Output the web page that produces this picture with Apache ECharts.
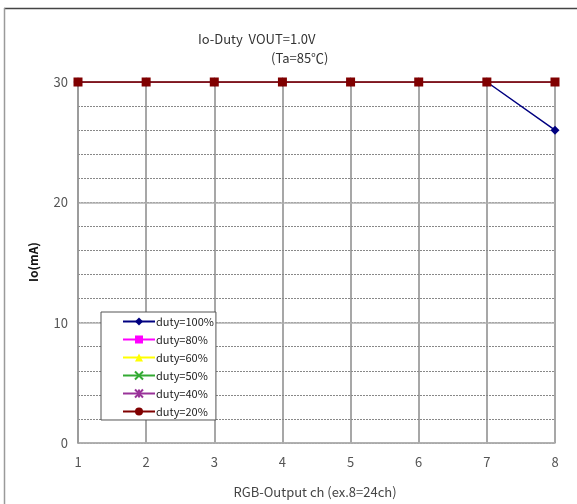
<!DOCTYPE html>
<html><head><meta charset="utf-8">
<script src="https://cdn.jsdelivr.net/npm/echarts@6/dist/echarts.min.js"></script>
<style>html,body{margin:0;padding:0;background:#fff}#c{width:577px;height:504px}</style>
</head><body><div id="c"></div>
<script>
const channels = [1, 2, 3, 4, 5, 6, 7, 8];
const seriesNames = ['duty=100%', 'duty=80%', 'duty=60%', 'duty=50%', 'duty=40%', 'duty=20%'];
const duty100 = [30, 30, 30, 30, 30, 30, 30, 26];
const duty80 = [30, 30, 30, 30, 30, 30, 30, 30];
const duty60 = [30, 30, 30, 30, 30, 30, 30, 30];
const duty50 = [30, 30, 30, 30, 30, 30, 30, 30];
const duty40 = [30, 30, 30, 30, 30, 30, 30, 30];
const duty20 = [30, 30, 30, 30, 30, 30, 30, 30];
const yLabels = [0, 10, 20, 30];
const titleLine1 = 'Io-Duty  VOUT=1.0V';
const titleLine2 = '(Ta=85℃)';
const xName = 'RGB-Output ch (ex.8=24ch)';
const yName = 'Io(mA)';

const FONT = '"Noto Sans CJK JP", "DejaVu Sans", sans-serif';
const colors = ['#000080', '#ff00ff', '#ffff00', '#33aa33', '#993399', '#800000'];
const symbols = ['diamond', 'rect', 'triangle',
  'path://M0,0L10,10M10,0L0,10',
  'path://M0,0L10,10M10,0L0,10M5,0L5,10',
  'circle'];
const sizes = [9, 8, 9, 9, 9, 9];
const allVals = [duty100, duty80, duty60, duty50, duty40, duty20];

const series = allVals.map((vals, k) => ({
  name: seriesNames[k],
  type: 'line',
  xAxisIndex: 0, yAxisIndex: 0,
  data: channels.map((c, i) => k === 5 ? { value: [c, vals[i]], symbol: 'rect' } : [c, vals[i]]),
  symbol: symbols[k],
  symbolSize: sizes[k],
  showSymbol: (k === 0 || k === 5),
  lineStyle: { color: colors[k], width: 1.5 },
  itemStyle: { color: colors[k], borderColor: colors[k], borderWidth: (k === 3 || k === 4) ? 1.2 : 0 },
  emphasis: { disabled: true },
  animation: false
}));

const chart = echarts.init(document.getElementById('c'));
chart.setOption({
  animation: false,
  textStyle: { fontFamily: FONT },
  grid: { left: 78, right: 22, top: 82, bottom: 61 },
  xAxis: {
    type: 'value', min: 1, max: 8, interval: 1,
    axisLine: { show: true, onZero: false, lineStyle: { color: '#999', width: 1.5 } },
    axisTick: { show: false },
    axisLabel: { color: '#555', fontSize: 13, margin: 13, fontFamily: FONT },
    splitLine: { show: true, lineStyle: { color: '#8a8a8a', width: 1.5 } }
  },
  yAxis: [{
    type: 'value', min: 0, max: 30, interval: 10,
    axisLine: { show: true, lineStyle: { color: '#999', width: 1.5 } },
    axisTick: { show: false },
    axisLabel: { color: '#555', fontSize: 13, margin: 10, fontFamily: FONT,
      formatter: v => yLabels.includes(v) ? String(v) : '' },
    splitLine: { show: true, lineStyle: { color: '#b0b0b0', width: 1.5 } },
    z: 1
  }, {
    type: 'value', min: 0, max: 30, interval: 2, position: 'left',
    axisLine: { show: false }, axisTick: { show: false }, axisLabel: { show: false },
    splitLine: { show: true, lineStyle: { color: '#888', width: 1, type: [2, 1] } },
    z: 0
  }],
  legend: {
    orient: 'vertical', left: 101, top: 312,
    data: seriesNames,
    itemWidth: 32, itemHeight: 10, itemGap: 7,
    padding: [4, 2, 3, 21],
    backgroundColor: '#fff',
    borderColor: '#555', borderWidth: 1,
    textStyle: { fontSize: 11, color: '#222', fontFamily: FONT, padding: [0, 0, 0, -4] },
    selectedMode: false
  },
  series: series,
  graphic: [
    { type: 'line', shape: { x1: 4, y1: 8.5, x2: 577, y2: 8.5 }, style: { stroke: '#444', lineWidth: 1.5 }, silent: true },
    { type: 'line', shape: { x1: 4.5, y1: 8, x2: 4.5, y2: 504 }, style: { stroke: '#9a9a9a', lineWidth: 1.5 }, silent: true },
    { type: 'text', left: 198, top: 33, style: { text: titleLine1, fontSize: 13, fill: '#333', fontFamily: FONT } },
    { type: 'text', left: 271, top: 52, style: { text: titleLine2, fontSize: 13, fill: '#333', fontFamily: FONT } },
    { type: 'text', x: 33, y: 262, rotation: Math.PI / 2,
      style: { text: yName, fontSize: 12, fontWeight: 'bold', fill: '#111', fontFamily: FONT, align: 'center', verticalAlign: 'middle' } },
    { type: 'text', x: 315, y: 492,
      style: { text: xName, fontSize: 13, fill: '#444', fontFamily: FONT, align: 'center', verticalAlign: 'middle' } }
  ]
});
</script></body></html>
